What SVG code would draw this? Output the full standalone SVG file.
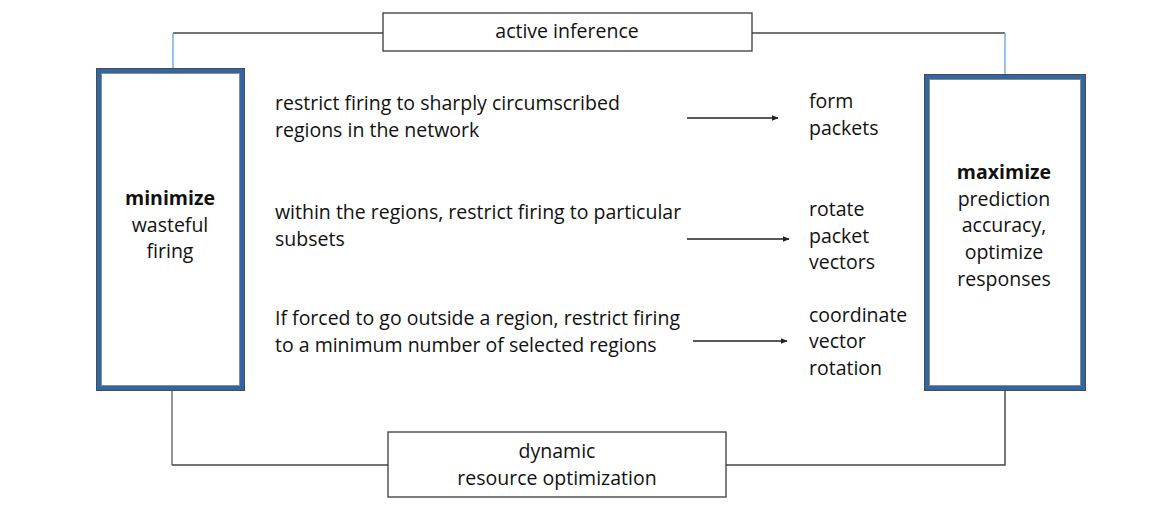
<svg xmlns="http://www.w3.org/2000/svg" width="1165" height="529" viewBox="0 0 1165 529">
  <style>
    text { font-family: "Open Sans", Lato, "Liberation Sans", sans-serif; font-size: 19.5px; fill: #111; }
    .c { text-anchor: middle; }
    .b { font-weight: bold; }
    .main { fill: #fff; stroke: #2f66a3; stroke-width: 4; }
    .edge-out { fill: none; stroke: #4a4a4a; stroke-width: 1; }
    .edge-in { fill: none; stroke: #8a8a8a; stroke-width: 1; }
    .label-box { fill: #fff; stroke: #3a3a3a; stroke-width: 1.3; }
    .link { fill: none; stroke: #444; stroke-width: 1.4; }
    .link-blue { fill: none; stroke: #6fa8dc; stroke-width: 1.4; }
    .link-grey { fill: none; stroke: #7a7a7a; stroke-width: 1.6; }
    .arrow { fill: none; stroke: #222; stroke-width: 1.3; marker-end: url(#head); }
  </style>
  <defs>
    <marker id="head" viewBox="0 0 10 10" refX="9" refY="5" markerWidth="7" markerHeight="7" markerUnits="userSpaceOnUse" orient="auto">
      <path d="M0,1 L10,5 L0,9 z" fill="#222"/>
    </marker>
  </defs>
  <rect width="1165" height="529" fill="#fff"/>

  <!-- connectors -->
  <g id="connectors">
    <path class="link" d="M173,33 H383"/>
    <path class="link-blue" d="M173,33 V69"/>
    <path class="link" d="M752,33 H1005"/>
    <path class="link-blue" d="M1005,33 V75"/>
    <path class="link-grey" d="M172,390 V465"/>
    <path class="link" d="M172,465 H388"/>
    <path class="link" d="M726,465 H1005 V390"/>
    <path class="arrow" d="M687,118 H778"/>
    <path class="arrow" d="M687,239 H789"/>
    <path class="arrow" d="M693,341 H787"/>
  </g>

  <!-- top label -->
  <g id="active-inference">
    <rect class="label-box" x="383" y="13" width="369" height="38"/>
    <text class="c" x="567" y="38">active inference</text>
  </g>

  <!-- left goal -->
  <g id="minimize">
    <rect class="main" x="99" y="71" width="143" height="317"/>
    <rect class="edge-out" x="96.5" y="68.5" width="148" height="322"/>
    <rect class="edge-in" x="101.5" y="73.5" width="138" height="312"/>
    <text class="c b" x="170" y="205">minimize</text>
    <text class="c" x="170" y="232">wasteful</text>
    <text class="c" x="170" y="258">firing</text>
  </g>

  <!-- right goal -->
  <g id="maximize">
    <rect class="main" x="927" y="77" width="156" height="311"/>
    <rect class="edge-out" x="924.5" y="74.5" width="161" height="316"/>
    <rect class="edge-in" x="929.5" y="79.5" width="151" height="306"/>
    <text class="c b" x="1004" y="179">maximize</text>
    <text class="c" x="1004" y="206">prediction</text>
    <text class="c" x="1004" y="232">accuracy,</text>
    <text class="c" x="1004" y="259">optimize</text>
    <text class="c" x="1004" y="286">responses</text>
  </g>

  <!-- strategies -->
  <g id="strategy-1">
    <text x="275" y="110">restrict firing to sharply circumscribed</text>
    <text x="275" y="137">regions in the network</text>
  </g>
  <g id="strategy-2">
    <text x="275" y="219">within the regions, restrict firing to particular</text>
    <text x="275" y="246">subsets</text>
  </g>
  <g id="strategy-3">
    <text x="275" y="325">If forced to go outside a region, restrict firing</text>
    <text x="275" y="352">to a minimum number of selected regions</text>
  </g>

  <!-- outcomes -->
  <g id="outcome-1">
    <text x="809" y="108">form</text>
    <text x="809" y="135">packets</text>
  </g>
  <g id="outcome-2">
    <text x="809" y="216">rotate</text>
    <text x="809" y="243">packet</text>
    <text x="809" y="269">vectors</text>
  </g>
  <g id="outcome-3">
    <text x="809" y="322">coordinate</text>
    <text x="809" y="348">vector</text>
    <text x="809" y="375">rotation</text>
  </g>

  <!-- bottom label -->
  <g id="resource-optimization">
    <rect class="label-box" x="388" y="432" width="338" height="65"/>
    <text class="c" x="557" y="458">dynamic</text>
    <text class="c" x="557" y="485">resource optimization</text>
  </g>
</svg>
